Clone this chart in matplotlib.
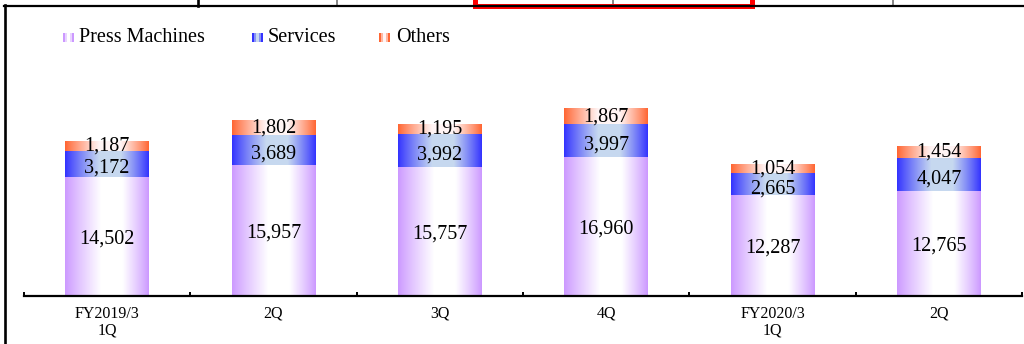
import numpy as np
import matplotlib
matplotlib.use("Agg")
import matplotlib.pyplot as plt
from matplotlib.patches import Rectangle
from matplotlib.lines import Line2D

# Quarterly sales by segment
quarters = ["FY2019/3\n1Q", "2Q", "3Q", "4Q", "FY2020/3\n1Q", "2Q"]
press_machines = [14502, 15957, 15757, 16960, 12287, 12765]
services = [3172, 3689, 3992, 3997, 2665, 4047]
others = [1187, 1802, 1195, 1867, 1054, 1454]
series_names = ["Press Machines", "Services", "Others"]

FONT = "Liberation Serif"
W, H = 1024, 344

# edge colour / centre colour / peak position of each horizontal gradient fill
gradients = {
    "Press Machines": ((0.80, 0.60, 1.00), (1.00, 1.00, 1.00), 0.58),
    "Services": ((0.20, 0.20, 1.00), (0.78, 0.85, 0.94), 0.55),
    "Others": ((1.00, 0.40, 0.20), (1.00, 0.96, 0.96), 0.55),
}
# small vertical nudge (points) of the value labels inside each segment
label_nudge = {"Press Machines": 0, "Services": -1.5, "Others": 1.5}


def gradient_row(edge, centre, peak, n=96):
    t = np.linspace(0, 1, n)
    f = np.where(t < peak, t / peak, (1 - t) / (1 - peak))
    f = np.clip(f * 1.35, 0, 1) ** 0.9
    edge = np.array(edge)
    centre = np.array(centre)
    row = edge[None, :] * (1 - f[:, None]) + centre[None, :] * f[:, None]
    return row[None, :, :]


def fx(x):
    return x / W


def fy(y):
    return 1 - y / H


fig = plt.figure(figsize=(W / 100, H / 100), dpi=100)
ax = fig.add_axes([fx(24), fy(296), (1022 - 24) / W, (296 - 20) / H])

x = np.arange(len(quarters))
width = 0.505
bottom = np.zeros(len(quarters))
for name, vals in zip(series_names, [press_machines, services, others]):
    bars = ax.bar(x, vals, width=width, bottom=bottom, color="none",
                  edgecolor="none", zorder=2)
    edge, centre, peak = gradients[name]
    img = gradient_row(edge, centre, peak)
    for rect, v, b in zip(bars, vals, bottom):
        x0 = rect.get_x()
        ax.imshow(img, extent=[x0, x0 + rect.get_width(), rect.get_y(),
                               rect.get_y() + rect.get_height()],
                  aspect="auto", interpolation="bilinear", zorder=2)
        ax.annotate(f"{v:,}", (rect.get_x() + rect.get_width() / 2, b + v / 2),
                    xytext=(0, label_nudge[name]), textcoords="offset points",
                    ha="center", va="center_baseline", fontsize=14.5, family=FONT,
                    color="black", zorder=4)
    bottom = bottom + np.array(vals)

ax.set_xlim(-0.5, len(quarters) - 0.5)
ax.set_ylim(0, 33600)
ax.set_aspect("auto")

for side in ["left", "right", "top"]:
    ax.spines[side].set_visible(False)
ax.spines["bottom"].set_linewidth(1.6)
ax.spines["bottom"].set_zorder(5)
ax.set_yticks([])
ax.set_xticks(x)
ax.set_xticklabels(quarters, family=FONT, fontsize=11.5, linespacing=1.05)
ax.tick_params(axis="x", which="major", length=0, pad=7)
ax.set_xticks(np.arange(-0.5, len(quarters)), minor=True)
ax.tick_params(axis="x", which="minor", direction="in", length=3, width=1.4)

# Legend drawn as striped gradient swatches with labels
legend_items = [("Press Machines", 63, 79), ("Services", 252, 268), ("Others", 379, 396)]
for name, px0, tx in legend_items:
    edge, centre, peak = gradients[name]
    row = gradient_row(edge, centre, 0.5, n=6)[0]
    sw = 11 / 6
    for i, c in enumerate(row):
        fig.add_artist(Rectangle((fx(px0 + i * sw), fy(42)), sw / W, 9 / H,
                                 transform=fig.transFigure, facecolor=c,
                                 edgecolor="none"))
    fig.text(fx(tx), fy(38), name, family=FONT, fontsize=14.5,
             ha="left", va="center", color="black")

# Surrounding frame lines
fig.add_artist(Line2D([fx(5), fx(5)], [fy(5), fy(344)], transform=fig.transFigure,
                      color="black", linewidth=1.9))
fig.add_artist(Line2D([fx(4), fx(1024)], [fy(6), fy(6)], transform=fig.transFigure,
                      color="black", linewidth=1.6))
fig.add_artist(Line2D([fx(198), fx(198)], [fy(0), fy(6)], transform=fig.transFigure,
                      color="black", linewidth=1.9))
for gx in [337, 613, 893]:
    fig.add_artist(Rectangle((fx(gx - 1), fy(5)), 2 / W, 5 / H, transform=fig.transFigure,
                             facecolor="#888888", edgecolor="none"))
for rx, ry, rw, rh in [(473, 9, 282, 5), (473, 9, 5, 9), (750, 9, 5, 9)]:
    fig.add_artist(Rectangle((fx(rx), fy(ry)), rw / W, rh / H, transform=fig.transFigure,
                             facecolor="#FF0000", edgecolor="none"))

fig.savefig("out.png", dpi=100, facecolor="white")
